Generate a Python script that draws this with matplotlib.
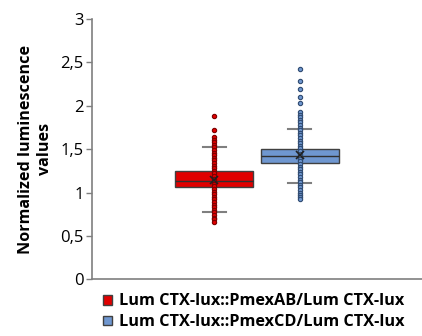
import matplotlib
matplotlib.use("Agg")
import matplotlib.pyplot as plt
from matplotlib.patches import Patch

plt.rcParams['font.family'] = ['Open Sans', 'DejaVu Sans']

series = ["Lum CTX-lux::PmexAB/Lum CTX-lux", "Lum CTX-lux::PmexCD/Lum CTX-lux"]
colors = ["#e00000", "#6f97d0"]
q1 = [1.063, 1.343]
med = [1.133, 1.42]
q3 = [1.251, 1.505]
whislo = [0.772, 1.113]
whishi = [1.528, 1.73]
means = [1.15, 1.43]
points_ab = [1.885, 1.72, 1.64, 1.61, 1.58, 1.55, 1.52, 1.49, 1.46, 1.43, 1.40,
             1.37, 1.34, 1.31, 1.28, 1.25, 1.22, 1.19, 1.16, 1.13, 1.10, 1.07,
             1.04, 1.01, 0.98, 0.95, 0.92, 0.89, 0.86, 0.83, 0.80, 0.77, 0.74,
             0.71, 0.69, 0.664]
points_cd = [2.43, 2.29, 2.20, 2.10, 2.03, 1.93, 1.90, 1.87, 1.84, 1.81, 1.78,
             1.75, 1.72, 1.69, 1.66, 1.63, 1.60, 1.57, 1.54, 1.51, 1.48, 1.45,
             1.42, 1.39, 1.36, 1.33, 1.30, 1.27, 1.24, 1.21, 1.18, 1.15, 1.12,
             1.09, 1.06, 1.03, 1.00, 0.97, 0.945, 0.925]
points = [points_ab, points_cd]
edge_colors = ["#7a0000", "#2f4a70"]
yticks = [0, 0.5, 1, 1.5, 2, 2.5, 3]
yticklabels = ["0", "0,5", "1", "1,5", "2", "2,5", "3"]

fig = plt.figure(figsize=(4.22, 3.36), dpi=100)
ax = fig.add_axes([0.218, 0.169, 0.782, 0.774])

positions = [0.37, 0.63]
for i in range(2):
    st = dict(med=med[i], q1=q1[i], q3=q3[i], whislo=whislo[i],
              whishi=whishi[i], mean=means[i], fliers=[])
    ax.bxp([st], positions=[positions[i]], widths=0.236, patch_artist=True,
           showmeans=False, showfliers=False, capwidths=0.07,
           boxprops=dict(facecolor=colors[i], edgecolor="#404040", linewidth=1.0),
           medianprops=dict(color="#303030", linewidth=1.0),
           whiskerprops=dict(color="#808080", linewidth=0),
           capprops=dict(color="#7f7f7f", linewidth=1.5))
    ax.plot([positions[i]] * len(points[i]), points[i], 'o', ms=3.1,
            mfc=colors[i], mec=edge_colors[i], mew=0.8, zorder=4)
    ax.plot([positions[i]], [means[i]], 'x', ms=6, color="#202020", mew=1.2, zorder=5)

ax.set_xlim(0, 1)
ax.set_ylim(0, 3)
ax.set_yticks(yticks)
ax.set_yticklabels(yticklabels, fontsize=12)
ax.set_xticks([])
for s in ["top", "right"]:
    ax.spines[s].set_visible(False)
for s in ["left", "bottom"]:
    ax.spines[s].set_color("#7f7f7f")
    ax.spines[s].set_linewidth(1.2)
ax.tick_params(axis='y', length=4, color="#7f7f7f", width=1.0, pad=2)
ax.set_ylabel("Normalized luminescence\nvalues", fontsize=11.6, fontweight='bold',
              linespacing=1.25, labelpad=5)

handles = [Patch(facecolor=colors[i], edgecolor="#404040", label=series[i]) for i in range(2)]
fig.legend(handles=handles, loc="lower left", bbox_to_anchor=(0.222, -0.012),
           frameon=False, prop=dict(weight='bold', size=11.7), handlelength=0.55,
           handleheight=0.55, handletextpad=0.4, labelspacing=0.3, borderaxespad=0.2)

fig.savefig("out.png", dpi=100)
